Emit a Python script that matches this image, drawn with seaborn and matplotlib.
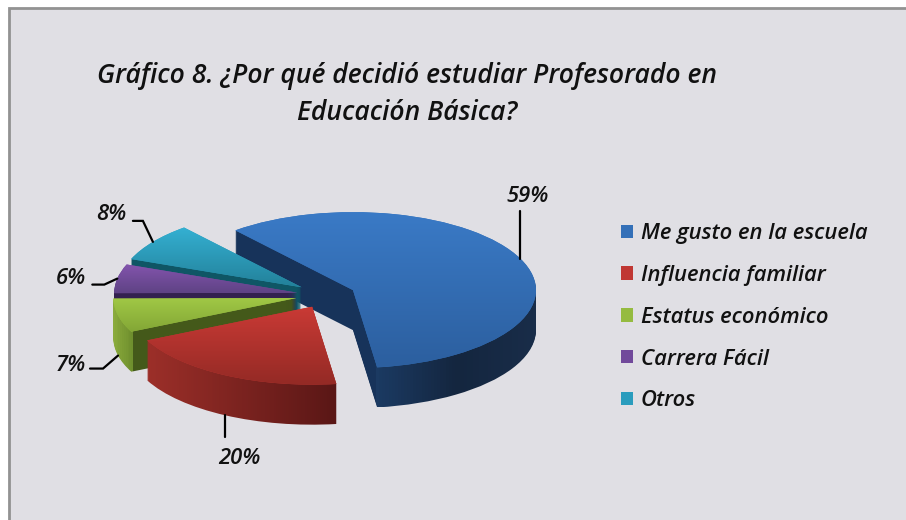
import matplotlib
matplotlib.use('Agg')
import matplotlib.pyplot as plt
from matplotlib.patches import Rectangle
import numpy as np
import seaborn as sns

categories = ['Me gusto en la escuela', 'Influencia familiar', 'Estatus económico', 'Carrera Fácil', 'Otros']
values = [59, 20, 7, 6, 8]
percent_labels = ['59%', '20%', '7%', '6%', '8%']
title_lines = ['Gráfico 8. ¿Por qué decidió estudiar Profesorado en', 'Educación Básica?']

# slice colours
top_colors = [['#3a7ac6', '#2c5f9f'], ['#c93a35', '#942a25'], ['#a0c845', '#83a636'],
              ['#8354ad', '#5f4385'], ['#34b0d2', '#23819a']]
wall_colors = [
    sns.blend_palette(['#17335a', '#17335a'], 47) + sns.blend_palette(['#1b3a62', '#14263f', '#192d49'], 53),
    sns.blend_palette(['#9c2f29', '#5a1716'], 100),
    sns.blend_palette(['#8aab3c', '#6f8f2e'], 11) + sns.blend_palette(['#44591a', '#44591a'], 89),
    sns.blend_palette(['#33214f', '#33214f'], 100),
    sns.blend_palette(['#0f5665', '#0f5665'], 100),
]
legend_colors = ['#3470b8', '#c03733', '#95bb40', '#71499b', '#2a9cbd']
draw_rank = [0, 4, 3, 2, 1]

# pixel geometry of the picture
W, H = 906, 520
cx, cy = 327, 295
rx, ry = 183, 78
depth = 40
explode = [0.155, 0.17, 0.172, 0.165, 0.17]
start = 130

# leader bends in pixels from the rim point, and label centres from the last bend
leaders = [[(0, -48)], [(0, 22)], [(-15, 13), (-28, 13)], [(-13, 6), (-25, 6)], [(-10, -21), (-20, -21)]]
label_shift = [(7, -14), (14, 21), (-19, -3), (-21, -6), (-22, -6)]
use_depth = [False, True, True, False, False]

sns.set_theme(style='white')
font = dict(family='Open Sans', style='italic', weight='semibold', color='#111111')

fig = plt.figure(figsize=(W / 100, H / 100), dpi=100, facecolor='white')
ax = fig.add_axes([0, 0, 1, 1])
fig.add_artist(Rectangle((9 / W, -0.02), (W - 9 + 10) / W, 1.02 - 8 / H, transform=fig.transFigure,
                         facecolor='#e0dfe4', edgecolor='#929292', linewidth=2, zorder=-5))


def bbox_of(w):
    return w.get_path().get_extents(w.get_patch_transform())


# wall: stacked copies of the pie going upwards
for k in range(depth, 0, -1):
    wedges, _ = ax.pie(values, explode=explode, startangle=start, counterclock=False,
                       center=(0, -k / ry), wedgeprops={'linewidth': 0})
    for i, w in enumerate(wedges):
        w.set_visible(False)
        b = bbox_of(w)
        grad = np.array(wall_colors[i])[None, :, :]
        ax.imshow(grad, extent=(b.x0, b.x1, b.y0, b.y1), aspect='auto', interpolation='nearest',
                  clip_path=w, zorder=draw_rank[i] * 100 + depth - k)

wedges, _ = ax.pie(values, explode=explode, startangle=start, counterclock=False,
                   center=(0, 0), wedgeprops={'linewidth': 0})
for i, w in enumerate(wedges):
    w.set_facecolor(legend_colors[i])
    w.set_zorder(draw_rank[i] * 100 + depth + 1)
    b = bbox_of(w)
    grad = np.array(sns.blend_palette(top_colors[i], 64))[:, None, :]
    ax.imshow(grad, extent=(b.x0, b.x1, b.y0, b.y1), aspect='auto', interpolation='bilinear',
              clip_path=w, zorder=draw_rank[i] * 100 + depth + 2)

# percent labels with leader lines starting on the rim of each slice
for i, w in enumerate(wedges):
    mid = np.deg2rad((w.theta1 + w.theta2) / 2)
    x = w.center[0] + np.cos(mid)
    y = w.center[1] + np.sin(mid) - (depth / ry if use_depth[i] else 0)
    xs = [x] + [x + dx / rx for dx, dy in leaders[i]]
    ys = [y] + [y - dy / ry for dx, dy in leaders[i]]
    ax.plot(xs, ys, color='black', lw=1.6, zorder=900, solid_joinstyle='miter', scalex=False, scaley=False)
    ax.text(xs[-1] + label_shift[i][0] / rx, ys[-1] - label_shift[i][1] / ry, percent_labels[i],
            ha='center', va='center', fontsize=15.8, zorder=900, **font)

for line, ypos in zip(title_lines, [76, 113]):
    fig.text(407 / W, 1 - ypos / H, line, ha='center', va='center', fontsize=19.1, **font)

handles = [Rectangle((0, 0), 1, 1, facecolor=c, edgecolor='none') for c in legend_colors]
leg = ax.legend(handles, categories, loc='upper left', bbox_to_anchor=(621 / W, 1 - 223 / H),
                bbox_transform=fig.transFigure, frameon=False, borderpad=0, borderaxespad=0,
                handlelength=0.55, handleheight=0.55, handletextpad=0.36, labelspacing=0.95,
                prop=dict(family='Open Sans', style='italic', weight='semibold', size=15.8))
for t in leg.get_texts():
    t.set_color('#111111')
leg.set_zorder(950)

ax.set_aspect('auto')
ax.set_xlim(-cx / rx, (W - cx) / rx)
ax.set_ylim((cy - H) / ry, cy / ry)
ax.axis('off')

fig.savefig('out.png', dpi=100, facecolor='white')
